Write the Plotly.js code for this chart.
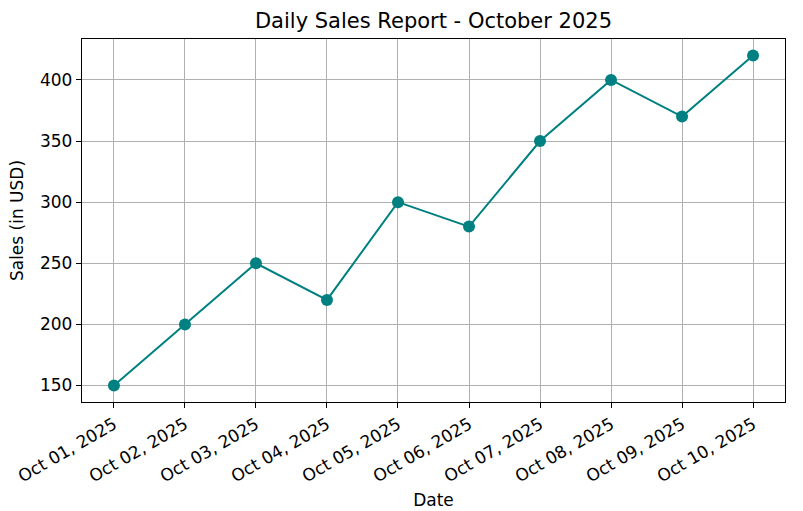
<!DOCTYPE html>
<html>
<head>
<meta charset="utf-8">
<script src="https://cdn.plot.ly/plotly-3.0.1.min.js"></script>
<style>
  html, body { margin: 0; padding: 0; background: #fff; }
  #chart { width: 803px; height: 511px; }
</style>
</head>
<body>
<div id="chart"></div>
<script>
"use strict";

// daily sales, October 2025
let dates = ["Oct 01, 2025", "Oct 02, 2025", "Oct 03, 2025", "Oct 04, 2025", "Oct 05, 2025",
             "Oct 06, 2025", "Oct 07, 2025", "Oct 08, 2025", "Oct 09, 2025", "Oct 10, 2025"];
let sales = [150, 200, 250, 220, 300, 280, 350, 400, 370, 420];
let yTicks = [150, 200, 250, 300, 350, 400];

let trace = {
    x: dates,
    y: sales,
    type: "scatter",
    mode: "lines+markers",
    line: { color: "#008080", width: 2 },
    marker: { color: "#008080", size: 12 },
    hoverinfo: "none"
};

let axisCommon = {
    showline: true,
    mirror: true,
    linecolor: "#000",
    linewidth: 1.2,
    ticks: "outside",
    ticklen: 5,
    tickcolor: "#000",
    showgrid: true,
    gridcolor: "#b0b0b0",
    gridwidth: 1,
    zeroline: false,
    tickfont: { size: 17, color: "#000" }
};

let layout = {
    width: 803,
    height: 511,
    margin: { l: 82, r: 18, t: 39, b: 109 },
    paper_bgcolor: "#fff",
    plot_bgcolor: "#fff",
    font: { family: "DejaVu Sans", color: "#000" },
    showlegend: false,
    title: {
        text: "Daily Sales Report - October 2025",
        font: { size: 21 },
        xref: "paper", x: 0.5, xanchor: "center",
        yref: "container", y: 0.96, yanchor: "middle"
    },
    xaxis: Object.assign({}, axisCommon, {
        type: "category",
        range: [-0.45, 9.45],
        tickangle: -30,
        title: { text: "Date", font: { size: 17 }, standoff: 9 }
    }),
    yaxis: Object.assign({}, axisCommon, {
        range: [136.5, 433.5],
        tickvals: yTicks,
        title: { text: "Sales (in USD)", font: { size: 17 }, standoff: 12 }
    })
};

Plotly.newPlot("chart", [trace], layout, { displayModeBar: false, staticPlot: true });
</script>
</body>
</html>
